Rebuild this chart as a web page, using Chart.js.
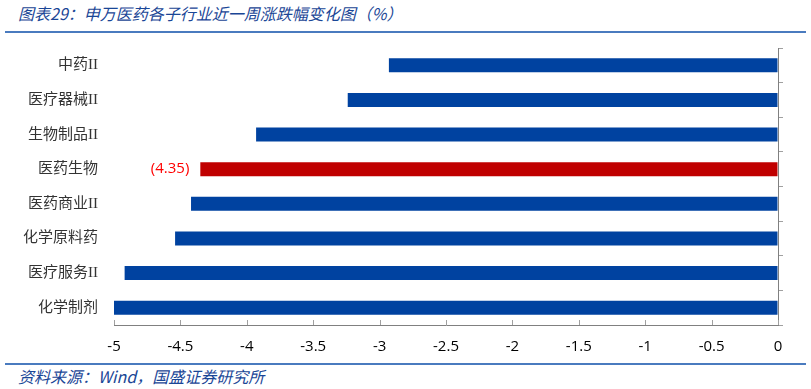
<!DOCTYPE html>
<html>
<head>
<meta charset="utf-8">
<script src="https://cdn.jsdelivr.net/npm/chart.js@4/dist/chart.umd.min.js"></script>
<style>
  body { margin: 0; background: #fff; }
  #page { position: relative; width: 811px; height: 389px; overflow: hidden; }
  .cap { position: absolute; left: 18px; font: italic 16px "Noto Sans CJK SC", sans-serif; line-height: 20px; color: #1a4696; white-space: nowrap; }
  .rule { position: absolute; left: 5px; width: 801px; height: 2px; background: #4a7bbf; }
  #wrap { position: absolute; left: 0; top: 40px; width: 811px; height: 320px; }
</style>
</head>
<body>
<div id="page">
  <div class="cap" style="top:3px">图表29：申万医药各子行业近一周涨跌幅变化图（%）</div>
  <div class="rule" style="top:31px"></div>
  <div id="wrap"><canvas id="chart" width="811" height="320"></canvas></div>
  <div class="rule" style="top:363px"></div>
  <div class="cap" style="top:366px">资料来源：Wind，国盛证券研究所</div>
</div>
<script>
const categories = ['中药II', '医疗器械II', '生物制品II', '医药生物', '医药商业II', '化学原料药', '医疗服务II', '化学制剂'];
const changes = [-2.93, -3.24, -3.93, -4.35, -4.42, -4.54, -4.92, -5.00];
const highlight = '医药生物';
const xMin = -5;
const xMax = 0;
const xStep = 0.5;

const blue = '#0042a0';
const red = '#c00000';

// x轴刻度线画在图内（朝上）
const innerTicks = {
    id: 'innerTicks',
    afterDraw(chart) {
        const ctx = chart.ctx;
        const x = chart.scales.x;
        const bottom = chart.chartArea.bottom;
        ctx.save();
        ctx.strokeStyle = '#a0a0a0';
        ctx.lineWidth = 1;
        x.ticks.forEach(t => {
            const px = Math.round(x.getPixelForValue(t.value)) + 0.5;
            ctx.beginPath();
            ctx.moveTo(px, bottom - 5);
            ctx.lineTo(px, bottom);
            ctx.stroke();
        });
        ctx.restore();
    }
};

// 医药生物 的数值标签
const valueLabel = {
    id: 'valueLabel',
    afterDatasetsDraw(chart) {
        const ctx = chart.ctx;
        const meta = chart.getDatasetMeta(0);
        const i = categories.indexOf(highlight);
        const bar = meta.data[i];
        ctx.save();
        ctx.fillStyle = '#ff0000';
        ctx.font = '15px "Open Sans", "Liberation Sans", sans-serif';
        ctx.textAlign = 'right';
        ctx.textBaseline = 'middle';
        ctx.fillText('(' + Math.abs(changes[i]).toFixed(2) + ')', bar.x - 11, bar.y);
        ctx.restore();
    }
};

// 不让纵轴为标签额外留出上下空白
function noPad(s) {
    s.paddingTop = 0;
    s.paddingBottom = 0;
}

const chart_canvas = document.getElementById('chart');

new Chart(chart_canvas, {
    type: 'bar',
    data: {
        labels: categories,
        datasets: [{
            data: changes,
            backgroundColor: categories.map(c => c === highlight ? red : blue),
            barPercentage: 0.405,
            categoryPercentage: 1,
            borderWidth: 0
        }]
    },
    options: {
        indexAxis: 'y',
        responsive: false,
        animation: false,
        layout: { padding: { top: 8, left: 0, right: 0, bottom: 0 } },
        plugins: {
            legend: { display: false },
            tooltip: { enabled: false }
        },
        scales: {
            x: {
                min: xMin,
                max: xMax,
                ticks: {
                    stepSize: xStep,
                    padding: 13,
                    color: '#000',
                    font: { family: '"Open Sans", "Liberation Sans", sans-serif', size: 15 },
                    callback: v => String(+(+v).toFixed(1))
                },
                grid: { drawOnChartArea: false, drawTicks: false },
                border: { color: '#808080', width: 1 },
                afterFit: s => { s.height = 35; }
            },
            y: {
                position: 'left',
                grid: { display: false, drawTicks: false },
                border: { display: false },
                ticks: {
                    padding: 16,
                    color: '#333',
                    font: { family: '"Liberation Serif", "Noto Sans CJK SC", serif', size: 15 }
                },
                afterFit: s => { s.width = 114; noPad(s); }
            },
            y2: {
                type: 'category',
                labels: categories,
                position: 'right',
                offset: true,
                grid: { offset: true, drawOnChartArea: false, tickLength: 5, color: '#a0a0a0' },
                border: { color: '#808080', width: 1 },
                ticks: { display: false },
                afterFit: s => { s.width = 33; noPad(s); }
            }
        }
    },
    plugins: [innerTicks, valueLabel]
});
</script>
</body>
</html>
